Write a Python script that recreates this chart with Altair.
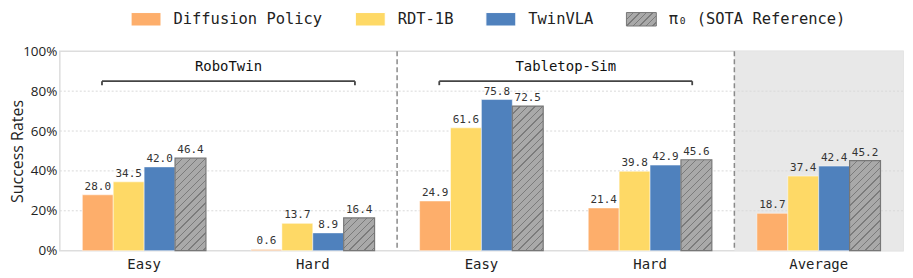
import json
import altair as alt
import pandas as pd

# ---------------- data ----------------
groups = ["RoboTwin", "RoboTwin", "Tabletop-Sim", "Tabletop-Sim", "Average"]
levels = ["Easy", "Hard", "Easy", "Hard", "Average"]
series = ["Diffusion Policy", "RDT-1B", "TwinVLA", "π₀ (SOTA Reference)"]
diffusion_policy = [28.0, 0.6, 24.9, 21.4, 18.7]
rdt_1b = [34.5, 13.7, 61.6, 39.8, 37.4]
twinvla = [42.0, 8.9, 75.8, 42.9, 42.4]
pi0 = [46.4, 16.4, 72.5, 45.6, 45.2]
y_ticks = [0, 20, 40, 60, 80, 100]
bracket_names = ["RoboTwin", "Tabletop-Sim"]
colors = ["#fdae6b", "#fed966", "#4f81bd", "#a9a9a9"]

# ---------------- layout / style ----------------
W, H = 846, 200
OFFSET_PAD = 0.729
BAR_W = (W / len(levels)) / (len(series) + 2 * OFFSET_PAD)
MONO = "DejaVu Sans Mono"
SANS = "Open Sans"
HATCH_BG = "#a9a9a9"
HATCH_FG = "#7b7b7b"

cats = [f"{g}|{l}" for g, l in zip(groups, levels)]
values_by_series = [diffusion_policy, rdt_1b, twinvla, pi0]
rows = []
for s, vals in zip(series, values_by_series):
    for c, v in zip(cats, vals):
        rows.append({"cat": c, "series": s, "value": v})
df = pd.DataFrame(rows)

brackets = pd.DataFrame({
    "name": bracket_names,
    "start": [cats[0], cats[2]],
    "end": [cats[1], cats[3]],
})
separators = pd.DataFrame({"cat": [cats[1], cats[3]]})
avg_bg = pd.DataFrame({"cat": [cats[4]]})
grid_df = pd.DataFrame({"value": [t for t in y_ticks if 0 < t < 100]})


def hatch(w, h, period=7.5, line=1.3, bg=HATCH_BG, fg=HATCH_FG):
    """45-degree '///' stripes as a bbox-relative linear gradient."""
    h = max(h, 0.5)
    t = (1 / h + 1 / w) / (1 / h ** 2 + 1 / w ** 2)
    n = (w + h) / period
    f = line / period
    stops = []
    k = 0
    while k < n:
        a = k / n
        b = min((k + f) / n, 1.0)
        c = min((k + 1) / n, 1.0)
        stops += [
            {"offset": round(a, 5), "color": fg},
            {"offset": round(b, 5), "color": fg},
            {"offset": round(b, 5), "color": bg},
            {"offset": round(c, 5), "color": bg},
        ]
        k += 1
    return {"gradient": "linear", "x1": 0, "y1": 0,
            "x2": round(t / h, 6), "y2": round(t / w, 6), "stops": stops}


legend_hatch = {"expr": json.dumps(hatch(30, 13.5, period=6.5))}

x_scale = alt.Scale(domain=cats, paddingInner=0, paddingOuter=0)
xo_scale = alt.Scale(domain=series, paddingInner=0, paddingOuter=OFFSET_PAD)
y_scale = alt.Scale(domain=[0, 100], nice=False)

legend = alt.Legend(
    title=None, orient="none", legendX=71, legendY=-48, direction="horizontal",
    columns=4, symbolType="M-1,-0.45H1V0.45H-1Z", symbolSize=900,
    symbolStrokeWidth=1, labelFont=MONO, labelFontSize=15.5, labelColor="#222",
    labelOffset=12, columnPadding=30, padding=0, labelLimit=400,
)
fill_scale = alt.Scale(domain=series, range=colors[:3] + [legend_hatch])
stroke_scale = alt.Scale(domain=series, range=["#ffffff", "#ffffff", "#ffffff", "#777777"])

x_axis = alt.Axis(
    title=None, labelExpr="split(datum.label, '|')[1]", labelAngle=0,
    labelFont=MONO, labelFontSize=14, labelColor="#222", labelPadding=7,
    ticks=False, domain=False, grid=False,
)
y_axis = alt.Axis(
    title="Success Rates", values=y_ticks, labelExpr="datum.value + '%'",
    labelFont=SANS, labelFontSize=13.5, labelColor="#222", labelPadding=3,
    labelOverlap=False, labelFlush=False,
    titleFont=SANS, titleFontSize=16, titleFontWeight="normal", titleColor="#222",
    titleX=-42, titleY=100, titleAngle=270, titleAlign="center", titleBaseline="middle",
    ticks=False, domain=False, grid=False,
)


def X(field, **kw):
    return alt.X(field, scale=x_scale, axis=x_axis, **kw)


def Y(field):
    return alt.Y(field, scale=y_scale, axis=y_axis)


def YD(v):
    return alt.YDatum(v, scale=y_scale, axis=y_axis)


bg = alt.Chart(avg_bg).mark_rect(color="#e8e8e8").encode(x=X("cat:N"))

grid = alt.Chart(grid_df).mark_rule(color="#d9d9d9", strokeDash=[2, 2], strokeWidth=1).encode(
    y=Y("value:Q")
)

seps = alt.Chart(separators).mark_rule(color="#8a8a8a", strokeDash=[5, 3], strokeWidth=1.5).encode(
    x=X("cat:N", bandPosition=1)
)

bars = alt.Chart(df).transform_filter(
    alt.datum.series != series[3]
).mark_bar(strokeWidth=0.8, strokeOpacity=0.6).encode(
    x=X("cat:N"),
    xOffset=alt.XOffset("series:N", scale=xo_scale),
    y=Y("value:Q"),
    fill=alt.Fill("series:N", scale=fill_scale, legend=legend),
    stroke=alt.Stroke("series:N", scale=stroke_scale, legend=legend),
)

pi_layers = []
for c, v in zip(cats, pi0):
    pi_layers.append(
        alt.Chart(df).transform_filter(
            (alt.datum.series == series[3]) & (alt.datum.cat == c)
        ).mark_bar(fill=hatch(BAR_W, v * H / 100), stroke="#777777", strokeWidth=1.2).encode(
            x=X("cat:N"),
            xOffset=alt.XOffset("series:N", scale=xo_scale),
            y=Y("value:Q"),
        )
    )

labels = alt.Chart(df).mark_text(
    font=MONO, fontSize=11, color="#333", baseline="bottom", dy=-3
).encode(
    x=X("cat:N"),
    xOffset=alt.XOffset("series:N", scale=xo_scale),
    y=Y("value:Q"),
    text=alt.Text("value:Q", format=".1f"),
)

bracket_line = alt.Chart(brackets).mark_rule(color="#444", strokeWidth=1.8).encode(
    x=X("start:N", bandPosition=0.25),
    x2=alt.X2("end", bandPosition=0.75),
    y=YD(85),
)
bracket_l = alt.Chart(brackets).mark_rule(color="#444", strokeWidth=1.8).encode(
    x=X("start:N", bandPosition=0.25),
    y=YD(85), y2=alt.Y2Datum(83),
)
bracket_r = alt.Chart(brackets).mark_rule(color="#444", strokeWidth=1.8).encode(
    x=X("end:N", bandPosition=0.75),
    y=YD(85), y2=alt.Y2Datum(83),
)
bracket_text = alt.Chart(brackets).mark_text(
    font=MONO, fontSize=14, color="#111", baseline="middle"
).encode(
    x=X("start:N", bandPosition=1),
    y=YD(92),
    text="name:N",
)

chart = alt.layer(
    bg, grid, seps, bars, *pi_layers, labels,
    bracket_line, bracket_l, bracket_r, bracket_text,
).properties(
    width=W, height=H,
    autosize=alt.AutoSizeParams(type="none"),
    padding={"left": 52, "top": 43, "right": 2, "bottom": 25},
).configure_view(
    stroke="#dddddd", strokeWidth=1.5
)

chart.save("out.html", embed_options={"renderer": "svg", "actions": False})
